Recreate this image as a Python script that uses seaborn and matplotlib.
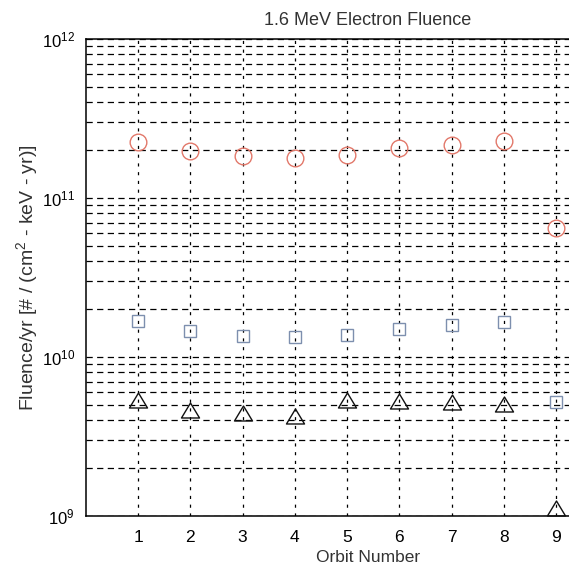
import matplotlib
matplotlib.use("Agg")
import matplotlib.pyplot as plt
from matplotlib.path import Path
import seaborn as sns
import numpy as np
import pandas as pd
from matplotlib.ticker import LogLocator, NullFormatter

# Orbit numbers and fluence per orbit for each curve
orbits = [1, 2, 3, 4, 5, 6, 7, 8, 9]
fluence_circle = [2.25e11, 1.97e11, 1.85e11, 1.79e11, 1.86e11, 2.05e11, 2.17e11, 2.27e11, 6.5e10]
fluence_square = [1.69e10, 1.46e10, 1.36e10, 1.33e10, 1.37e10, 1.51e10, 1.59e10, 1.66e10, 5.2e9]
fluence_triangle = [5.35e9, 4.67e9, 4.47e9, 4.26e9, 5.39e9, 5.3e9, 5.2e9, 5.05e9, 1.12e9]
xtick_labels = ["1", "2", "3", "4", "5", "6", "7", "8", "9"]

sns.set_style("white")
plt.rcParams["font.family"] = ["Liberation Sans", "DejaVu Sans"]
plt.rcParams["mathtext.fontset"] = "custom"
plt.rcParams["mathtext.rm"] = "Liberation Sans"
plt.rcParams["mathtext.it"] = "Liberation Sans:italic"

fig = plt.figure(figsize=(5.69, 5.74), dpi=100)
ax = fig.add_axes([0.1511, 0.1010, 0.9912, 0.8310])

# slightly flattened upward triangle
flat_triangle = Path([(-1.0, -0.83), (1.0, -0.83), (0.0, 0.83), (-1.0, -0.83)],
                     [Path.MOVETO, Path.LINETO, Path.LINETO, Path.CLOSEPOLY])

series = [
    (fluence_circle, "o", "#e2786a", 12),
    (fluence_square, "s", "#7d8fae", 9),
    (fluence_triangle, flat_triangle, "#111111", 13),
]
for values, marker, color, size in series:
    df = pd.DataFrame({"orbit": orbits, "fluence": values})
    sns.lineplot(data=df, x="orbit", y="fluence", ax=ax, linestyle="",
                 marker=marker, markersize=size, markerfacecolor="none",
                 markeredgecolor=color, markeredgewidth=1.0, color=color,
                 zorder=3)

ax.set_yscale("log")
ax.set_ylim(1e9, 1e12)
ax.set_xlim(0, 10.8)

ax.yaxis.set_major_locator(LogLocator(base=10, numticks=10))
ax.yaxis.set_minor_locator(LogLocator(base=10, subs=np.arange(2, 10), numticks=20))
ax.yaxis.set_minor_formatter(NullFormatter())
ax.set_xticks(orbits)
ax.set_xticklabels(xtick_labels)

# dashed grid on every decade subdivision and every orbit
ax.grid(False)
ax.yaxis.grid(True, which="both", color="black", linewidth=0.9, linestyle=(0, (5, 3.5)))
ax.xaxis.grid(True, which="major", color="black", linewidth=0.9, linestyle=(0, (2.5, 4.5)))
ax.axvline(10, color="black", linewidth=0.9, linestyle=(0, (2.5, 4.5)))

for side in ["left", "bottom", "top"]:
    ax.spines[side].set_visible(True)
    ax.spines[side].set_color("black")
    ax.spines[side].set_linewidth(1.1)
ax.spines["right"].set_visible(False)

ax.tick_params(axis="both", which="both", direction="in", colors="black")
ax.tick_params(axis="y", which="major", length=4, labelsize=12, pad=8)
ax.tick_params(axis="y", which="minor", length=2.5)
ax.tick_params(axis="x", which="major", length=4, labelsize=12.5, pad=10)

ax.set_title("1.6 MeV Electron Fluence", fontsize=13, pad=10, color="#333333")
ax.set_xlabel("Orbit Number", fontsize=12.5, labelpad=4, color="#333333")
ax.set_ylabel("Fluence/yr [# / (cm$^2$ - keV - yr)]", fontsize=14, labelpad=1,
              color="#333333")

fig.savefig("out.png", dpi=100)
